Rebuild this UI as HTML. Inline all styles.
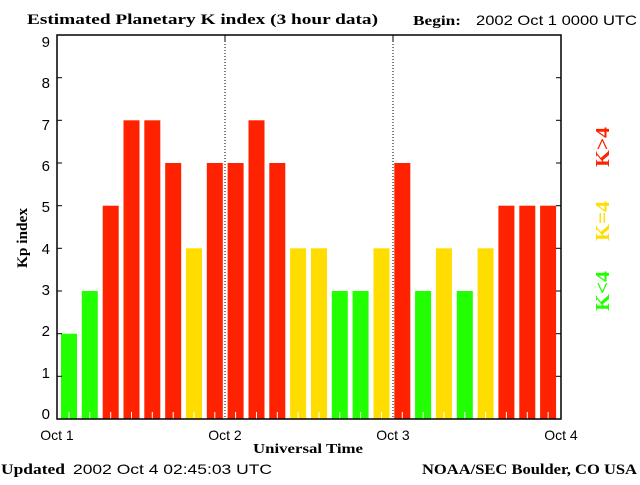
<!DOCTYPE html>
<html><head><style>
body{margin:0;background:#fff;}
text{font-family:"Liberation Sans",sans-serif;}
text.b{font-family:"Liberation Serif",serif;font-weight:bold;}
.r{fill:#ff2200}.y{fill:#ffdd00}.g{fill:#22ff00}
</style></head><body>
<svg width="640" height="480" xmlns="http://www.w3.org/2000/svg">
<rect width="640" height="480" fill="#fff"/>
<rect class="g" x="61" y="333.7" width="16" height="85.3"/>
<rect class="g" x="81.8" y="291" width="16" height="128"/>
<rect class="r" x="102.7" y="205.7" width="16" height="213.3"/>
<rect class="r" x="123.5" y="120.3" width="16" height="298.7"/>
<rect class="r" x="144.3" y="120.3" width="16" height="298.7"/>
<rect class="r" x="165.2" y="163" width="16" height="256"/>
<rect class="y" x="186" y="248.3" width="16" height="170.7"/>
<rect class="r" x="206.8" y="163" width="16" height="256"/>
<rect class="r" x="227.6" y="163" width="16" height="256"/>
<rect class="r" x="248.5" y="120.3" width="16" height="298.7"/>
<rect class="r" x="269.3" y="163" width="16" height="256"/>
<rect class="y" x="290.1" y="248.3" width="16" height="170.7"/>
<rect class="y" x="311" y="248.3" width="16" height="170.7"/>
<rect class="g" x="331.8" y="291" width="16" height="128"/>
<rect class="g" x="352.6" y="291" width="16" height="128"/>
<rect class="y" x="373.5" y="248.3" width="16" height="170.7"/>
<rect class="r" x="394.3" y="163" width="16" height="256"/>
<rect class="g" x="415.1" y="291" width="16" height="128"/>
<rect class="y" x="435.9" y="248.3" width="16" height="170.7"/>
<rect class="g" x="456.8" y="291" width="16" height="128"/>
<rect class="y" x="477.6" y="248.3" width="16" height="170.7"/>
<rect class="r" x="498.4" y="205.7" width="16" height="213.3"/>
<rect class="r" x="519.3" y="205.7" width="16" height="213.3"/>
<rect class="r" x="540.1" y="205.7" width="16" height="213.3"/>
<g stroke="#fff">
<line x1="69" y1="412" x2="69" y2="419"/><line x1="89.8" y1="412" x2="89.8" y2="419"/><line x1="110.7" y1="412" x2="110.7" y2="419"/><line x1="131.5" y1="412" x2="131.5" y2="419"/><line x1="152.3" y1="412" x2="152.3" y2="419"/><line x1="173.2" y1="412" x2="173.2" y2="419"/><line x1="194" y1="412" x2="194" y2="419"/><line x1="214.8" y1="412" x2="214.8" y2="419"/><line x1="235.6" y1="412" x2="235.6" y2="419"/><line x1="256.5" y1="412" x2="256.5" y2="419"/><line x1="277.3" y1="412" x2="277.3" y2="419"/><line x1="298.1" y1="412" x2="298.1" y2="419"/><line x1="319" y1="412" x2="319" y2="419"/><line x1="339.8" y1="412" x2="339.8" y2="419"/><line x1="360.6" y1="412" x2="360.6" y2="419"/><line x1="381.5" y1="412" x2="381.5" y2="419"/><line x1="402.3" y1="412" x2="402.3" y2="419"/><line x1="423.1" y1="412" x2="423.1" y2="419"/><line x1="443.9" y1="412" x2="443.9" y2="419"/><line x1="464.8" y1="412" x2="464.8" y2="419"/><line x1="485.6" y1="412" x2="485.6" y2="419"/><line x1="506.4" y1="412" x2="506.4" y2="419"/><line x1="527.3" y1="412" x2="527.3" y2="419"/><line x1="548.1" y1="412" x2="548.1" y2="419"/>
</g>
<line x1="225" y1="35" x2="225" y2="419" stroke="#000" stroke-dasharray="1,2"/>
<line x1="393" y1="35" x2="393" y2="419" stroke="#000" stroke-dasharray="1,2"/>
<line x1="225" y1="35" x2="225" y2="42" stroke="#000"/>
<line x1="393" y1="35" x2="393" y2="42" stroke="#000"/>
<rect x="57" y="35" width="504" height="384" fill="none" stroke="#000" stroke-width="1.5"/>
<g stroke="#000">
<line x1="57" y1="77.7" x2="62" y2="77.7"/><line x1="57" y1="120.3" x2="62" y2="120.3"/><line x1="57" y1="163" x2="62" y2="163"/><line x1="57" y1="205.7" x2="62" y2="205.7"/><line x1="57" y1="248.3" x2="62" y2="248.3"/><line x1="57" y1="291" x2="62" y2="291"/><line x1="57" y1="333.7" x2="62" y2="333.7"/><line x1="57" y1="376.3" x2="62" y2="376.3"/>
<line x1="556" y1="77.7" x2="561" y2="77.7"/><line x1="556" y1="120.3" x2="561" y2="120.3"/><line x1="556" y1="163" x2="561" y2="163"/><line x1="556" y1="205.7" x2="561" y2="205.7"/><line x1="556" y1="248.3" x2="561" y2="248.3"/><line x1="556" y1="291" x2="561" y2="291"/><line x1="556" y1="333.7" x2="561" y2="333.7"/><line x1="556" y1="376.3" x2="561" y2="376.3"/>
</g>
<g font-size="15" text-anchor="end">
<text x="50" y="47">9</text><text x="50" y="88">8</text><text x="50" y="130">7</text><text x="50" y="171">6</text><text x="50" y="212">5</text><text x="50" y="254">4</text><text x="50" y="295">3</text><text x="50" y="336">2</text><text x="50" y="378">1</text><text x="50" y="419">0</text>
</g>
<g font-size="14" text-anchor="middle">
<text x="57" y="440">Oct 1</text><text x="225" y="440">Oct 2</text><text x="393" y="440">Oct 3</text><text x="561" y="440">Oct 4</text>
</g>
<text class="b" x="27" y="24" font-size="15" textLength="351" lengthAdjust="spacingAndGlyphs">Estimated Planetary K index (3 hour data)</text>
<text class="b" x="413" y="25" font-size="14" textLength="48" lengthAdjust="spacingAndGlyphs">Begin:</text>
<text x="476" y="25" font-size="14" textLength="161" lengthAdjust="spacingAndGlyphs">2002 Oct 1 0000 UTC</text>
<text class="b" x="253" y="453" font-size="14" textLength="110" lengthAdjust="spacingAndGlyphs">Universal Time</text>
<text class="b" transform="translate(27,268) rotate(-90)" font-size="15" textLength="60" lengthAdjust="spacingAndGlyphs">Kp index</text>
<text class="b" x="1" y="474" font-size="15" textLength="64" lengthAdjust="spacingAndGlyphs">Updated</text>
<text x="73" y="474" font-size="14" textLength="199" lengthAdjust="spacingAndGlyphs">2002 Oct  4 02:45:03 UTC</text>
<text class="b" x="422" y="474" font-size="15" textLength="215" lengthAdjust="spacingAndGlyphs">NOAA/SEC Boulder, CO USA</text>
<text class="b g" transform="translate(609,311) rotate(-90)" font-size="20" textLength="40" lengthAdjust="spacingAndGlyphs">K&lt;4</text>
<text class="b y" transform="translate(609,241) rotate(-90)" font-size="20" textLength="40" lengthAdjust="spacingAndGlyphs">K=4</text>
<text class="b r" transform="translate(609,167) rotate(-90)" font-size="20" textLength="40" lengthAdjust="spacingAndGlyphs">K&gt;4</text>
</svg>
</body></html>
